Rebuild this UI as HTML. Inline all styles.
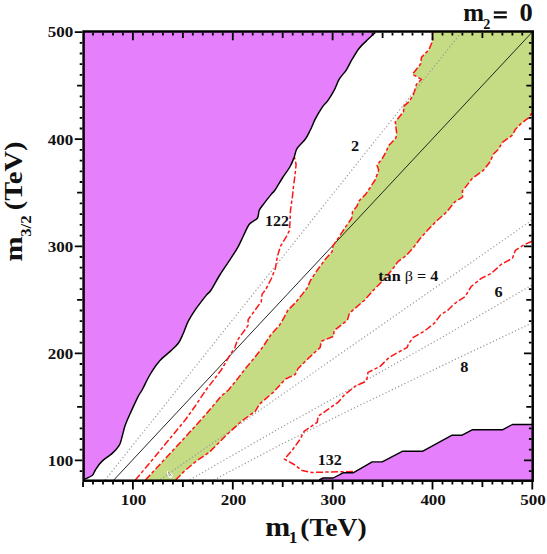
<!DOCTYPE html>
<html><head><meta charset="utf-8"><title>plot</title>
<style>html,body{margin:0;padding:0;background:#fff}svg{display:block}</style></head>
<body>
<svg width="547" height="554" viewBox="0 0 547 554">
<rect width="547" height="554" fill="#fff"/>
<path d="M84.0 479.5 C85.3 478.8 90.2 477.0 92.1 475.5 C93.9 474.0 93.9 472.3 95.1 470.5 C96.3 468.7 97.6 466.4 99.1 464.5 C100.6 462.6 101.9 461.2 104.1 459.4 C106.3 457.5 109.7 455.7 112.2 453.4 C114.7 451.1 117.5 448.2 119.2 445.4 C120.9 442.5 121.2 439.7 122.2 436.3 C123.2 432.9 123.8 429.1 125.2 425.2 C126.6 421.3 128.1 418.0 130.3 413.2 C132.5 408.4 136.3 400.0 138.3 396.1 C140.3 392.2 140.1 393.6 142.1 390.0 C144.1 386.4 147.2 379.3 150.1 374.5 C152.9 369.7 155.8 365.2 159.2 361.4 C162.5 357.5 167.0 354.4 170.2 351.4 C173.4 348.4 176.1 346.3 178.3 343.3 C180.5 340.3 181.6 337.0 183.3 333.3 C185.0 329.6 186.1 325.4 188.3 321.2 C190.5 317.0 193.4 312.5 196.4 308.2 C199.4 303.9 204.0 298.1 206.4 295.1 C208.8 292.1 208.8 293.4 211.1 290.0 C213.4 286.6 216.9 279.6 220.1 274.5 C223.3 269.4 227.3 263.8 230.2 259.4 C233.0 255.0 235.0 252.2 237.2 248.4 C239.4 244.6 241.2 240.3 243.2 236.3 C245.2 232.3 247.0 227.2 249.3 224.2 C251.7 221.2 255.6 220.5 257.3 218.2 C259.0 215.9 258.1 212.7 259.3 210.2 C260.5 207.7 262.3 205.8 264.3 203.1 C266.3 200.4 269.6 196.3 271.4 194.1 C273.2 191.9 273.2 192.6 275.0 190.0 C276.8 187.4 279.6 182.4 282.1 178.5 C284.6 174.6 288.1 170.0 290.1 166.5 C292.1 163.0 292.9 160.4 294.1 157.4 C295.3 154.4 295.2 151.4 297.1 148.4 C299.0 145.4 303.0 142.3 305.2 139.3 C307.4 136.3 308.5 133.7 310.2 130.3 C311.9 127.0 313.2 123.1 315.2 119.2 C317.2 115.3 320.2 110.2 322.3 107.1 C324.4 104.0 326.0 103.2 328.0 100.4 C330.0 97.6 332.2 93.9 334.1 90.4 C336.0 86.9 337.1 82.7 339.1 79.3 C341.1 75.9 343.9 73.6 346.1 70.3 C348.3 67.0 350.0 62.9 352.2 59.2 C354.4 55.5 356.5 51.6 359.2 48.2 C361.9 44.9 365.6 41.7 368.3 39.1 C371.0 36.5 374.1 33.6 375.3 32.5 L83.6 31.5 L83.6 480.7 Z" fill="#E57FFC"/>
<polygon points="145.4,480.0 185.0,437.4 195.1,426.3 205.1,415.2 221.2,396.1 228.5,390.0 236.6,380.0 246.5,367.3 254.7,357.5 262.9,346.8 271.1,334.4 279.4,325.4 284.3,317.1 287.6,310.6 295.8,302.3 302.4,294.1 307.1,288.1 310.7,280.0 318.1,269.0 325.5,259.1 332.1,251.7 332.9,245.9 339.5,236.1 346.1,226.2 351.8,218.0 352.6,211.4 356.8,206.5 359.2,200.7 365.8,194.1 368.5,190.0 375.1,180.0 378.7,170.0 377.0,165.3 382.5,158.2 386.4,151.2 388.3,146.1 396.0,137.8 396.6,132.6 395.3,121.8 398.5,117.9 403.6,111.5 403.6,106.4 409.4,101.3 413.5,94.4 416.5,84.3 421.5,79.3 412.5,74.3 420.5,64.2 421.5,57.2 428.8,49.9 432.6,41.0 432.6,32.0 532.7,31.5 532.0,112.5 529.5,117.1 521.5,123.2 515.5,129.2 512.4,135.2 502.4,142.3 498.4,149.3 493.3,154.3 490.3,161.4 483.3,170.4 472.2,178.5 462.4,191.0 462.6,197.1 454.5,202.1 446.5,212.2 437.4,220.2 428.4,229.3 420.3,238.3 414.3,246.4 406.3,255.4 398.2,261.4 392.2,269.5 382.1,281.5 373.5,290.1 364.5,300.2 349.4,313.2 347.4,320.3 334.3,330.3 333.3,336.4 321.2,341.4 320.2,347.4 308.2,358.5 298.1,368.5 295.1,374.6 285.5,379.0 273.5,392.1 259.4,404.2 255.4,411.2 241.3,421.3 227.2,434.3 219.2,442.4 209.1,452.4 197.1,460.5 185.0,470.5 175.6,480.0" fill="#C6DC84"/>
<polygon points="319.2,480.0 323.2,478.0 333.3,478.0 343.0,472.8 353.1,472.8 372.2,461.9 382.2,461.9 402.3,451.3 422.4,451.3 452.1,435.2 462.1,435.2 472.2,429.8 502.4,429.8 512.4,424.5 532.0,424.5 532.7,480.7" fill="#E57FFC"/>
<polyline points="105.1,480.0 460.7,33.3" fill="none" stroke="#989898" stroke-width="1.2" stroke-dasharray="1.2 2.3"/>
<polyline points="160.4,479.5 532.0,220.1" fill="none" stroke="#989898" stroke-width="1.2" stroke-dasharray="1.2 2.3"/>
<polyline points="190.0,479.8 280.0,428.0 350.0,389.2 437.7,339.8 532.0,285.0" fill="none" stroke="#989898" stroke-width="1.2" stroke-dasharray="1.2 2.3"/>
<polyline points="213.8,480.0 280.0,445.0 350.0,410.0 450.0,361.9 532.0,323.0" fill="none" stroke="#989898" stroke-width="1.2" stroke-dasharray="1.2 2.3"/>
<line x1="113.8" y1="480.0" x2="532.3" y2="32.0" stroke="#1a1a1a" stroke-width="0.95"/>
<polyline points="145.4,480.0 185.0,437.4 195.1,426.3 205.1,415.2 221.2,396.1 228.5,390.0 236.6,380.0 246.5,367.3 254.7,357.5 262.9,346.8 271.1,334.4 279.4,325.4 284.3,317.1 287.6,310.6 295.8,302.3 302.4,294.1 307.1,288.1 310.7,280.0 318.1,269.0 325.5,259.1 332.1,251.7 332.9,245.9 339.5,236.1 346.1,226.2 351.8,218.0 352.6,211.4 356.8,206.5 359.2,200.7 365.8,194.1 368.5,190.0 375.1,180.0 378.7,170.0 377.0,165.3 382.5,158.2 386.4,151.2 388.3,146.1 396.0,137.8 396.6,132.6 395.3,121.8 398.5,117.9 403.6,111.5 403.6,106.4 409.4,101.3 413.5,94.4 416.5,84.3 421.5,79.3 412.5,74.3 420.5,64.2 421.5,57.2 428.8,49.9 432.6,41.0 432.6,32.0" fill="none" stroke="#FF1414" stroke-width="1.5" stroke-dasharray="7 2.3 3.3 2.4" stroke-linejoin="round"/>
<polyline points="175.6,480.0 185.0,470.5 197.1,460.5 209.1,452.4 219.2,442.4 227.2,434.3 241.3,421.3 255.4,411.2 259.4,404.2 273.5,392.1 285.5,379.0 295.1,374.6 298.1,368.5 308.2,358.5 320.2,347.4 321.2,341.4 333.3,336.4 334.3,330.3 347.4,320.3 349.4,313.2 364.5,300.2 373.5,290.1 382.1,281.5 392.2,269.5 398.2,261.4 406.3,255.4 414.3,246.4 420.3,238.3 428.4,229.3 437.4,220.2 446.5,212.2 454.5,202.1 462.6,197.1 462.4,191.0 472.2,178.5 483.3,170.4 490.3,161.4 493.3,154.3 498.4,149.3 502.4,142.3 512.4,135.2 515.5,129.2 521.5,123.2 529.5,117.1 532.0,112.5" fill="none" stroke="#FF1414" stroke-width="1.5" stroke-dasharray="7 2.3 3.3 2.4" stroke-linejoin="round"/>
<polyline points="135.3,480.0 152.2,460.0 185.0,420.3 195.1,406.2 205.1,391.1 215.2,378.0 221.2,370.0 230.0,355.0 234.9,347.6 237.4,340.2 248.1,325.4 248.1,319.6 254.7,310.6 261.3,301.5 262.1,294.1 265.4,290.0 271.4,278.5 275.4,268.5 277.4,256.4 280.4,246.4 286.5,236.3 289.5,230.3 290.1,220.2 290.5,210.2 292.5,196.1 293.3,188.0 295.1,174.5 296.1,164.5 294.5,157.4" fill="none" stroke="#FF1414" stroke-width="1.5" stroke-dasharray="7 2.3 3.3 2.4" stroke-linejoin="round"/>
<polyline points="532.0,241.2 523.5,245.2 515.4,250.3 512.4,258.3 501.3,264.3 491.3,273.4 481.2,278.4 471.2,286.5 465.2,296.5 454.3,303.8 448.1,310.0 440.4,315.1 434.4,323.2 424.3,331.2 413.3,337.3 408.3,344.3 407.3,347.3 398.2,352.3 389.2,357.4 380.1,366.4 368.0,372.4 367.0,378.5 364.5,382.0 355.4,386.1 344.3,395.1 338.3,402.1 328.3,409.2 318.2,416.2 317.2,422.3 304.1,431.3 300.1,439.3 292.1,450.4 284.4,459.1 294.1,464.5 302.1,470.5 312.2,472.5 330.3,471.9 353.4,471.5" fill="none" stroke="#FF1414" stroke-width="1.5" stroke-dasharray="7 2.3 3.3 2.4" stroke-linejoin="round"/>
<path d="M84.0 479.5 C85.3 478.8 90.2 477.0 92.1 475.5 C93.9 474.0 93.9 472.3 95.1 470.5 C96.3 468.7 97.6 466.4 99.1 464.5 C100.6 462.6 101.9 461.2 104.1 459.4 C106.3 457.5 109.7 455.7 112.2 453.4 C114.7 451.1 117.5 448.2 119.2 445.4 C120.9 442.5 121.2 439.7 122.2 436.3 C123.2 432.9 123.8 429.1 125.2 425.2 C126.6 421.3 128.1 418.0 130.3 413.2 C132.5 408.4 136.3 400.0 138.3 396.1 C140.3 392.2 140.1 393.6 142.1 390.0 C144.1 386.4 147.2 379.3 150.1 374.5 C152.9 369.7 155.8 365.2 159.2 361.4 C162.5 357.5 167.0 354.4 170.2 351.4 C173.4 348.4 176.1 346.3 178.3 343.3 C180.5 340.3 181.6 337.0 183.3 333.3 C185.0 329.6 186.1 325.4 188.3 321.2 C190.5 317.0 193.4 312.5 196.4 308.2 C199.4 303.9 204.0 298.1 206.4 295.1 C208.8 292.1 208.8 293.4 211.1 290.0 C213.4 286.6 216.9 279.6 220.1 274.5 C223.3 269.4 227.3 263.8 230.2 259.4 C233.0 255.0 235.0 252.2 237.2 248.4 C239.4 244.6 241.2 240.3 243.2 236.3 C245.2 232.3 247.0 227.2 249.3 224.2 C251.7 221.2 255.6 220.5 257.3 218.2 C259.0 215.9 258.1 212.7 259.3 210.2 C260.5 207.7 262.3 205.8 264.3 203.1 C266.3 200.4 269.6 196.3 271.4 194.1 C273.2 191.9 273.2 192.6 275.0 190.0 C276.8 187.4 279.6 182.4 282.1 178.5 C284.6 174.6 288.1 170.0 290.1 166.5 C292.1 163.0 292.9 160.4 294.1 157.4 C295.3 154.4 295.2 151.4 297.1 148.4 C299.0 145.4 303.0 142.3 305.2 139.3 C307.4 136.3 308.5 133.7 310.2 130.3 C311.9 127.0 313.2 123.1 315.2 119.2 C317.2 115.3 320.2 110.2 322.3 107.1 C324.4 104.0 326.0 103.2 328.0 100.4 C330.0 97.6 332.2 93.9 334.1 90.4 C336.0 86.9 337.1 82.7 339.1 79.3 C341.1 75.9 343.9 73.6 346.1 70.3 C348.3 67.0 350.0 62.9 352.2 59.2 C354.4 55.5 356.5 51.6 359.2 48.2 C361.9 44.9 365.6 41.7 368.3 39.1 C371.0 36.5 374.1 33.6 375.3 32.5" fill="none" stroke="#000" stroke-width="1.45"/>
<polyline points="319.2,480.0 323.2,478.0 333.3,478.0 343.0,472.8 353.1,472.8 372.2,461.9 382.2,461.9 402.3,451.3 422.4,451.3 452.1,435.2 462.1,435.2 472.2,429.8 502.4,429.8 512.4,424.5 532.0,424.5" fill="none" stroke="#000" stroke-width="1.4" stroke-linejoin="round"/>
<path d="M166.9 470.4 L172.8 474.4 L172.4 477.3 L169.3 477.9 L167.1 474.2 Z" fill="#fff"/><path d="M168.5 471.8 L171.7 476.2 M168.5 471.8 L169.3 476 L170.6 475" fill="none" stroke="#666" stroke-width="0.6"/>
<rect x="83.6" y="31.5" width="449.1" height="449.2" fill="none" stroke="#000" stroke-width="2.5"/>
<path d="M83.0 481.9 v5.2 M93.0 481.9 v2.6 M93.0 32.8 v2.6 M103.0 481.9 v2.6 M103.0 32.8 v2.6 M113.0 481.9 v2.6 M113.0 32.8 v2.6 M122.9 481.9 v2.6 M122.9 32.8 v2.6 M132.9 481.9 v7.5 M132.9 32.8 v7.5 M142.9 481.9 v2.6 M142.9 32.8 v2.6 M152.9 481.9 v2.6 M152.9 32.8 v2.6 M162.9 481.9 v2.6 M162.9 32.8 v2.6 M172.9 481.9 v2.6 M172.9 32.8 v2.6 M182.9 481.9 v5.2 M182.9 32.8 v5.2 M192.8 481.9 v2.6 M192.8 32.8 v2.6 M202.8 481.9 v2.6 M202.8 32.8 v2.6 M212.8 481.9 v2.6 M212.8 32.8 v2.6 M222.8 481.9 v2.6 M222.8 32.8 v2.6 M232.8 481.9 v7.5 M232.8 32.8 v7.5 M242.8 481.9 v2.6 M242.8 32.8 v2.6 M252.7 481.9 v2.6 M252.7 32.8 v2.6 M262.7 481.9 v2.6 M262.7 32.8 v2.6 M272.7 481.9 v2.6 M272.7 32.8 v2.6 M282.7 481.9 v5.2 M282.7 32.8 v5.2 M292.7 481.9 v2.6 M292.7 32.8 v2.6 M302.7 481.9 v2.6 M302.7 32.8 v2.6 M312.7 481.9 v2.6 M312.7 32.8 v2.6 M322.6 481.9 v2.6 M322.6 32.8 v2.6 M332.6 481.9 v7.5 M332.6 32.8 v7.5 M342.6 481.9 v2.6 M342.6 32.8 v2.6 M352.6 481.9 v2.6 M352.6 32.8 v2.6 M362.6 481.9 v2.6 M362.6 32.8 v2.6 M372.6 481.9 v2.6 M372.6 32.8 v2.6 M382.6 481.9 v5.2 M382.6 32.8 v5.2 M392.5 481.9 v2.6 M392.5 32.8 v2.6 M402.5 481.9 v2.6 M402.5 32.8 v2.6 M412.5 481.9 v2.6 M412.5 32.8 v2.6 M422.5 481.9 v2.6 M422.5 32.8 v2.6 M432.5 481.9 v7.5 M432.5 32.8 v7.5 M442.5 481.9 v2.6 M442.5 32.8 v2.6 M452.4 481.9 v2.6 M452.4 32.8 v2.6 M462.4 481.9 v2.6 M462.4 32.8 v2.6 M472.4 481.9 v2.6 M472.4 32.8 v2.6 M482.4 481.9 v5.2 M482.4 32.8 v5.2 M492.4 481.9 v2.6 M492.4 32.8 v2.6 M502.4 481.9 v2.6 M502.4 32.8 v2.6 M512.4 481.9 v2.6 M512.4 32.8 v2.6 M522.3 481.9 v2.6 M522.3 32.8 v2.6 M532.3 481.9 v7.5 M82.3 471.1 h-2.6 M531.5 471.1 h-2.6 M82.3 460.4 h-7.5 M531.5 460.4 h-7.5 M82.3 449.7 h-2.6 M531.5 449.7 h-2.6 M82.3 439.0 h-2.6 M531.5 439.0 h-2.6 M82.3 428.3 h-2.6 M531.5 428.3 h-2.6 M82.3 417.6 h-2.6 M531.5 417.6 h-2.6 M82.3 406.9 h-5.2 M531.5 406.9 h-5.2 M82.3 396.2 h-2.6 M531.5 396.2 h-2.6 M82.3 385.5 h-2.6 M531.5 385.5 h-2.6 M82.3 374.8 h-2.6 M531.5 374.8 h-2.6 M82.3 364.0 h-2.6 M531.5 364.0 h-2.6 M82.3 353.3 h-7.5 M531.5 353.3 h-7.5 M82.3 342.6 h-2.6 M531.5 342.6 h-2.6 M82.3 331.9 h-2.6 M531.5 331.9 h-2.6 M82.3 321.2 h-2.6 M531.5 321.2 h-2.6 M82.3 310.5 h-2.6 M531.5 310.5 h-2.6 M82.3 299.8 h-5.2 M531.5 299.8 h-5.2 M82.3 289.1 h-2.6 M531.5 289.1 h-2.6 M82.3 278.4 h-2.6 M531.5 278.4 h-2.6 M82.3 267.7 h-2.6 M531.5 267.7 h-2.6 M82.3 257.0 h-2.6 M531.5 257.0 h-2.6 M82.3 246.3 h-7.5 M531.5 246.3 h-7.5 M82.3 235.6 h-2.6 M531.5 235.6 h-2.6 M82.3 224.8 h-2.6 M531.5 224.8 h-2.6 M82.3 214.1 h-2.6 M531.5 214.1 h-2.6 M82.3 203.4 h-2.6 M531.5 203.4 h-2.6 M82.3 192.7 h-5.2 M531.5 192.7 h-5.2 M82.3 182.0 h-2.6 M531.5 182.0 h-2.6 M82.3 171.3 h-2.6 M531.5 171.3 h-2.6 M82.3 160.6 h-2.6 M531.5 160.6 h-2.6 M82.3 149.9 h-2.6 M531.5 149.9 h-2.6 M82.3 139.2 h-7.5 M531.5 139.2 h-7.5 M82.3 128.5 h-2.6 M531.5 128.5 h-2.6 M82.3 117.8 h-2.6 M531.5 117.8 h-2.6 M82.3 107.1 h-2.6 M531.5 107.1 h-2.6 M82.3 96.3 h-2.6 M531.5 96.3 h-2.6 M82.3 85.6 h-5.2 M531.5 85.6 h-5.2 M82.3 74.9 h-2.6 M531.5 74.9 h-2.6 M82.3 64.2 h-2.6 M531.5 64.2 h-2.6 M82.3 53.5 h-2.6 M531.5 53.5 h-2.6 M82.3 42.8 h-2.6 M531.5 42.8 h-2.6 M82.3 32.1 h-7.5" stroke="#000" stroke-width="1.8" fill="none"/>
<text transform="translate(133.5,504.5) scale(1.110,1)" font-size="15.3" text-anchor="middle" font-family="Liberation Serif, serif" font-weight="bold" fill="#111" >100</text>
<text transform="translate(73.2,465.7) scale(1.110,1)" font-size="15.3" text-anchor="end" font-family="Liberation Serif, serif" font-weight="bold" fill="#111" >100</text>
<text transform="translate(233.4,504.5) scale(1.110,1)" font-size="15.3" text-anchor="middle" font-family="Liberation Serif, serif" font-weight="bold" fill="#111" >200</text>
<text transform="translate(73.2,358.6) scale(1.110,1)" font-size="15.3" text-anchor="end" font-family="Liberation Serif, serif" font-weight="bold" fill="#111" >200</text>
<text transform="translate(333.2,504.5) scale(1.110,1)" font-size="15.3" text-anchor="middle" font-family="Liberation Serif, serif" font-weight="bold" fill="#111" >300</text>
<text transform="translate(73.2,251.6) scale(1.110,1)" font-size="15.3" text-anchor="end" font-family="Liberation Serif, serif" font-weight="bold" fill="#111" >300</text>
<text transform="translate(433.1,504.5) scale(1.110,1)" font-size="15.3" text-anchor="middle" font-family="Liberation Serif, serif" font-weight="bold" fill="#111" >400</text>
<text transform="translate(73.2,144.5) scale(1.110,1)" font-size="15.3" text-anchor="end" font-family="Liberation Serif, serif" font-weight="bold" fill="#111" >400</text>
<text transform="translate(532.9,504.5) scale(1.110,1)" font-size="15.3" text-anchor="middle" font-family="Liberation Serif, serif" font-weight="bold" fill="#111" >500</text>
<text transform="translate(73.2,37.4) scale(1.110,1)" font-size="15.3" text-anchor="end" font-family="Liberation Serif, serif" font-weight="bold" fill="#111" >500</text>
<text transform="translate(265.0,226.3) scale(1.080,1)" font-size="14.8" text-anchor="start" font-family="Liberation Serif, serif" font-weight="bold" fill="#111" >122</text>
<text transform="translate(317.8,464.6) scale(1.080,1)" font-size="14.8" text-anchor="start" font-family="Liberation Serif, serif" font-weight="bold" fill="#111" >132</text>
<text transform="translate(351.0,151.4) scale(1.100,1)" font-size="14.8" text-anchor="start" font-family="Liberation Serif, serif" font-weight="bold" fill="#111" >2</text>
<text transform="translate(494.4,296.9) scale(1.100,1)" font-size="14.8" text-anchor="start" font-family="Liberation Serif, serif" font-weight="bold" fill="#111" >6</text>
<text transform="translate(460.3,372.3) scale(1.100,1)" font-size="14.8" text-anchor="start" font-family="Liberation Serif, serif" font-weight="bold" fill="#111" >8</text>
<text transform="translate(378.2,281.1) scale(1.095,1)" font-size="14.8" text-anchor="start" font-family="Liberation Serif, serif" font-weight="bold" fill="#111" >tan <tspan font-weight="normal">β</tspan> = 4</text>
<text transform="translate(463.3,20.8) scale(1.020,1)" font-size="24.5" text-anchor="start" font-family="Liberation Serif, serif" font-weight="bold" fill="#111" >m</text>
<text transform="translate(483.2,28.9) scale(1.000,1)" font-size="14.2" text-anchor="start" font-family="Liberation Serif, serif" font-weight="bold" fill="#111" >2</text>
<rect x="493.8" y="11.3" width="13" height="2.4" fill="#111"/><rect x="493.8" y="16.0" width="13" height="2.4" fill="#111"/>
<text transform="translate(519.4,20.8) scale(1.080,1)" font-size="24.5" text-anchor="start" font-family="Liberation Serif, serif" font-weight="bold" fill="#111" >0</text>
<text transform="translate(265.2,536.1) scale(1.140,1)" font-size="26.3" text-anchor="start" font-family="Liberation Serif, serif" font-weight="bold" fill="#111" >m</text>
<text transform="translate(288.8,543.1) scale(1.100,1)" font-size="15.8" text-anchor="start" font-family="Liberation Serif, serif" font-weight="bold" fill="#111" >1</text>
<text transform="translate(300.2,536.1) scale(1.065,1)" font-size="26.0" text-anchor="start" font-family="Liberation Serif, serif" font-weight="bold" fill="#111" >(TeV)</text>
<g transform="translate(21.5,261) rotate(-90)">
<text transform="translate(-0.6,0.0) scale(1.180,1)" font-size="25.6" text-anchor="start" font-family="Liberation Serif, serif" font-weight="bold" fill="#111" >m</text>
<text transform="translate(24.2,9.6) scale(1.080,1)" font-size="15.6" text-anchor="start" font-family="Liberation Serif, serif" font-weight="bold" fill="#111" >3/2</text>
<text transform="translate(50.8,0.0) scale(1.115,1)" font-size="25.6" text-anchor="start" font-family="Liberation Serif, serif" font-weight="bold" fill="#111" >(TeV)</text>
</g>
</svg>
</body></html>
